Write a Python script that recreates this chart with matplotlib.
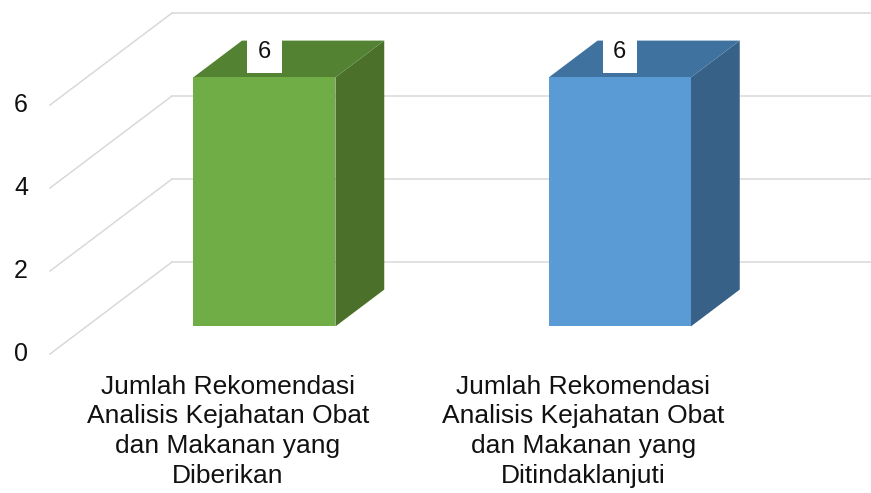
import matplotlib.pyplot as plt
from matplotlib.patches import Polygon

plt.rcParams['font.family'] = ['Liberation Sans', 'DejaVu Sans']

# data
categories = ["Jumlah Rekomendasi\nAnalisis Kejahatan Obat\ndan Makanan yang\nDiberikan",
              "Jumlah Rekomendasi\nAnalisis Kejahatan Obat\ndan Makanan yang\nDitindaklanjuti"]
values = [6, 6]
y_ticks = [0, 2, 4, 6]
front_colors = ["#70AD47", "#5B9BD5"]
top_colors = ["#548233", "#4072A0"]
side_colors = ["#4A7029", "#376187"]

# layout of the fake 3d view (pixels per unit, oblique depth offset)
W, H = 871, 493
px_cat, px_val = 355.5, 41.5
depth_dx, depth_dy = 122 / px_cat, 92 / px_val   # full depth in data units
left_px, zero_px = 50, 354
bar_w = 0.4
d0, d1 = 0.3, 0.7   # bar depth range (fraction of wall depth)

fig = plt.figure(figsize=(W / 100, H / 100), dpi=100)
ax = fig.add_axes([0, 0, 1, 1])
ax.set_xlim(-left_px / px_cat, (W - left_px) / px_cat)
ax.set_ylim(-(H - zero_px) / px_val, zero_px / px_val)
ax.axis("off")

n = len(values)
grid_c = "#D9D9D9"

# side wall diagonals + back wall gridlines
for v in y_ticks:
    ax.plot([0, depth_dx], [v, v + depth_dy], color=grid_c, lw=1.1, zorder=1)
    ax.plot([depth_dx, n + depth_dx], [v + depth_dy, v + depth_dy], color=grid_c, lw=1.1, zorder=1)
    ax.text(-0.062, v, str(v), ha="right", va="center", fontsize=18, color="#111111")


def proj(x, y, t):
    return (x + t * depth_dx, y + t * depth_dy)


for i, h in enumerate(values):
    x0 = i + (1 - bar_w) / 2
    x1 = x0 + bar_w
    front = [proj(x0, 0, d0), proj(x1, 0, d0), proj(x1, h, d0), proj(x0, h, d0)]
    top = [proj(x0, h, d0), proj(x1, h, d0), proj(x1, h, d1), proj(x0, h, d1)]
    side = [proj(x1, 0, d0), proj(x1, 0, d1), proj(x1, h, d1), proj(x1, h, d0)]
    ax.add_patch(Polygon(side, closed=True, facecolor=side_colors[i], edgecolor="none", zorder=3))
    ax.add_patch(Polygon(top, closed=True, facecolor=top_colors[i], edgecolor="none", zorder=3))
    ax.add_patch(Polygon(front, closed=True, facecolor=front_colors[i], edgecolor="none", zorder=4))
    lx, ly = proj(i + 0.5, h, d0)
    ax.text(lx, ly + 0.62, str(h), ha="center", va="center", fontsize=17, color="#111111", zorder=5,
            bbox=dict(boxstyle="square,pad=0.45", facecolor="white", edgecolor="none"))
    ax.text(i + 0.5, -0.5, categories[i], ha="center", va="top", fontsize=19,
            color="#111111", linespacing=1.3)

fig.savefig("out.png", dpi=100)
